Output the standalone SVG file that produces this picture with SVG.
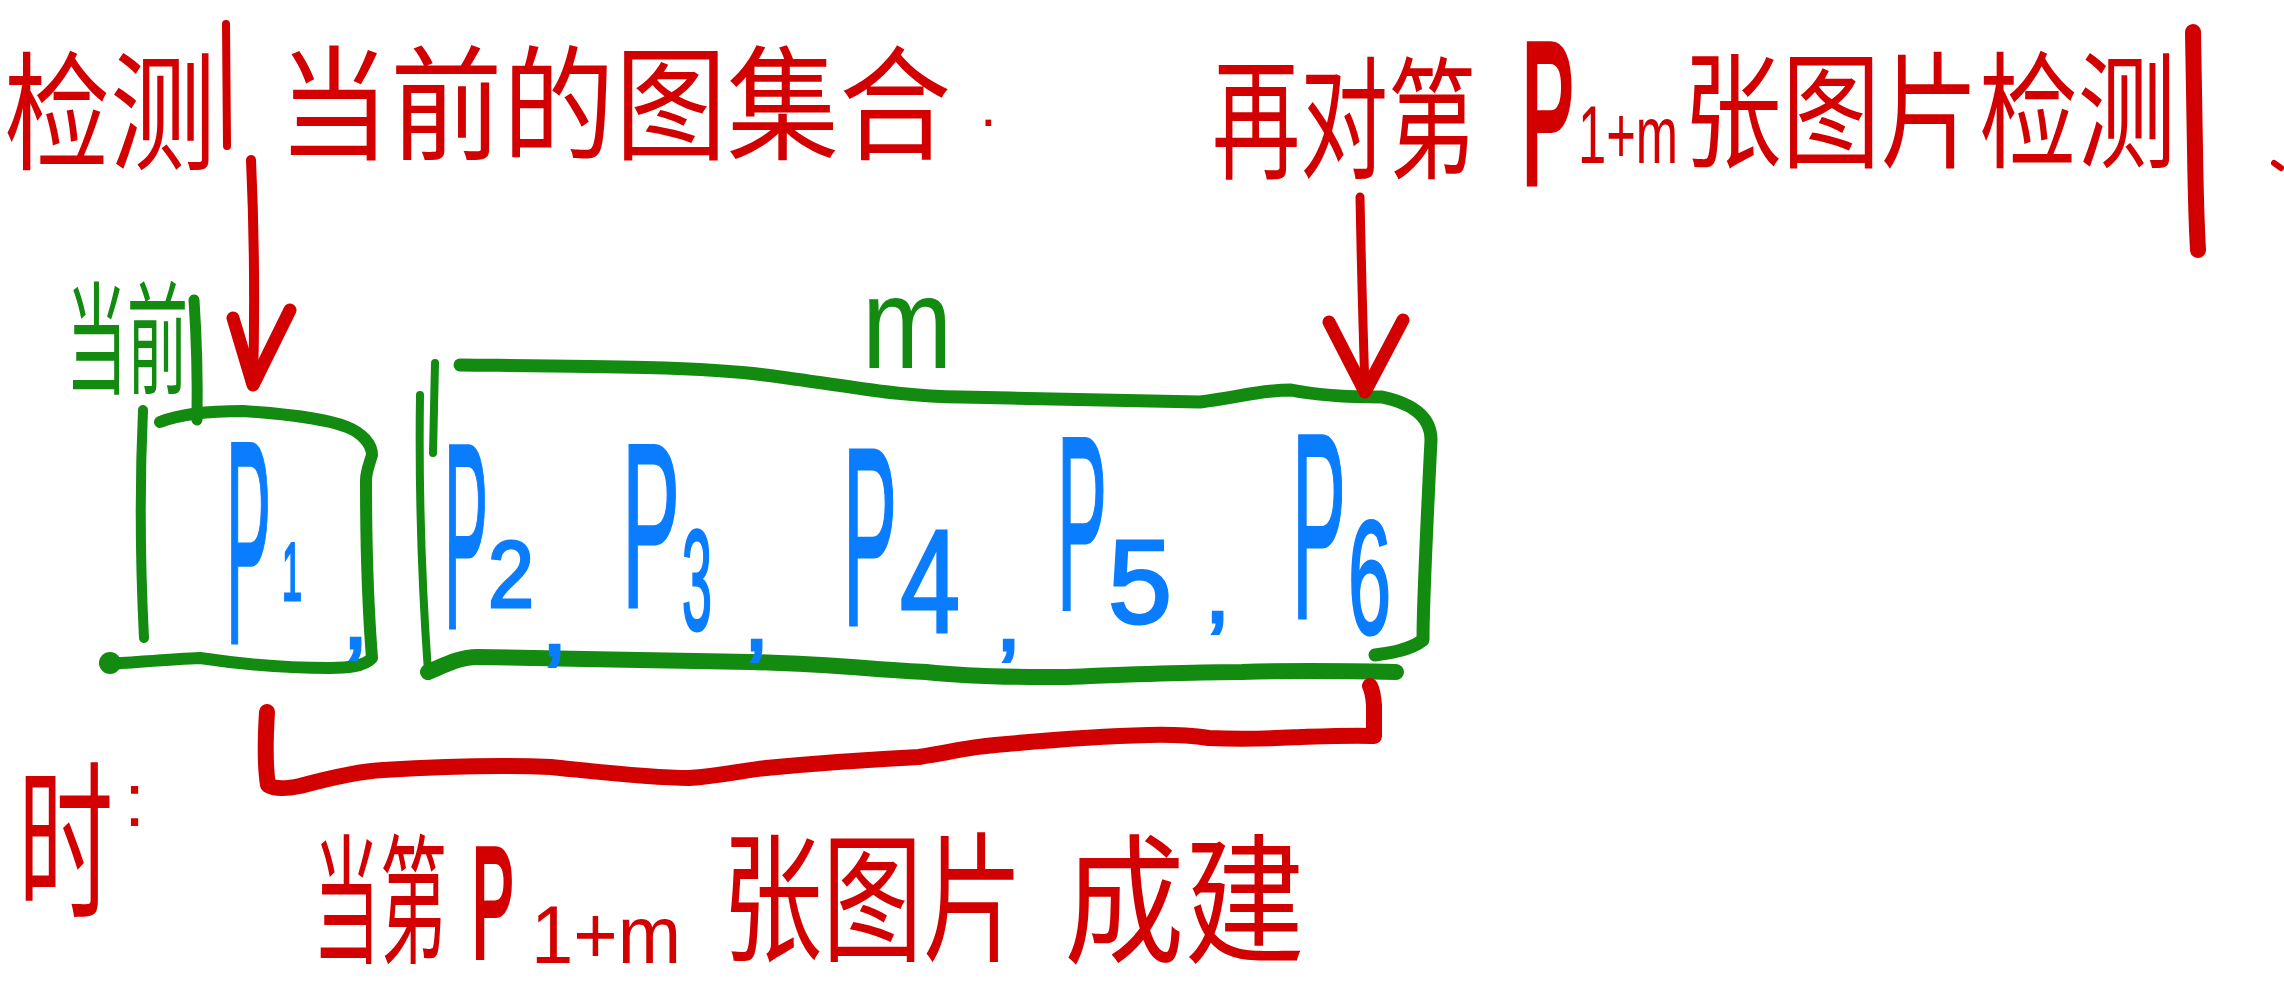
<svg xmlns="http://www.w3.org/2000/svg" width="2284" height="1000" viewBox="0 0 2284 1000">
<style>
.r{fill:#d20000}
.g{fill:#138a10}
.b{fill:#0a7dff;stroke:#0a7dff;stroke-width:3}
.cjk{font-family:"Noto Sans CJK SC","Noto Sans",sans-serif}
.lat{font-family:"Liberation Sans",Arial,sans-serif}
.sr{fill:none;stroke:#d20000;stroke-linecap:round;stroke-linejoin:round}
.sg{fill:none;stroke:#138a10;stroke-linecap:round;stroke-linejoin:round}
</style>
<rect width="2284" height="1000" fill="#ffffff"/>

<g id="label-top-left">
<text class="cjk r" transform="translate(4,160) scale(0.828,1)" font-size="128">检测</text>
<path class="sr" d="M226,24 L227,146" stroke-width="8"/>
<text class="cjk r" transform="translate(278,150) scale(0.905,1)" font-size="124">当前的图集合</text>
<text class="lat r" x="980" y="126" font-size="60">.</text>
</g>

<g id="label-top-right">
<text class="cjk r" transform="translate(1212,168) scale(0.667,1)" font-size="132">再对第</text>
<text class="lat r" transform="translate(1522,182) scale(0.394,1)" font-size="198" stroke="#d20000" stroke-width="8">P</text>
<text class="lat r" transform="translate(1578,163) scale(0.618,1)" font-size="82">1+m</text>
<text class="cjk r" transform="translate(1683,158) scale(0.783,1)" font-size="126">张图片检测</text>
<path class="sr" d="M2193,32 L2195,150 Q2196,215 2198,250" stroke-width="16"/>
<path class="sr" d="M2274,163 L2281,168" stroke-width="6"/>
</g>

<g id="label-current">
<text class="cjk g" transform="translate(66,384) scale(0.5,1)" font-size="122">当前</text>
<path class="sg" d="M194,300 Q198,360 197,420" stroke-width="11"/>
</g>

<g id="label-m">
<text class="lat g" transform="translate(862,368) scale(0.833,1)" font-size="130">m</text>
</g>

<g id="node-p1">
<path class="sg" d="M143,410 Q138,520 144,638" stroke-width="10"/>
<path class="sg" d="M160,422 C185,412 220,411 243,411 C290,414 330,420 347,427 C362,433 372,444 372,455 C369,465 366,472 366,480 C366,560 369,620 372,658 C364,667 345,668 330,668 C290,668 240,664 200,658 C170,659 130,663 108,664" stroke-width="12"/>
<circle cx="110" cy="663" r="11" fill="#138a10"/>
<text class="lat b" transform="translate(226,643) scale(0.233,1)" font-size="290" stroke-width="10">P</text>
<text class="lat b" transform="translate(282,600) scale(0.439,1)" font-size="82">1</text>
<text class="lat b" x="343" y="648" font-size="90">,</text>
</g>

<g id="node-p2-p6">
<path class="sg" d="M435,363 L433,453" stroke-width="8"/>
<path class="sg" d="M420,395 Q418,530 428,672" stroke-width="8"/>
<path class="sg" d="M460,365 C560,366 700,366 765,375 C850,386 900,397 961,397 C1050,399 1150,401 1200,402 C1240,397 1260,390 1291,390 C1320,396 1350,397 1382,397 C1405,402 1431,412 1431,440 C1427,520 1423,600 1423,640 C1410,650 1390,653 1375,655" stroke-width="13"/>
<path class="sg" d="M428,672 C445,665 460,657 477,657 C560,659 680,660 751,662 C830,664 880,670 926,672 C980,678 1030,677 1066,677 C1140,674 1200,672 1242,672 C1300,670 1350,671 1396,672" stroke-width="16"/>
<text class="lat b" transform="translate(444,628) scale(0.249,1)" font-size="265" stroke-width="9">P</text>
<text class="lat b" transform="translate(488,607) scale(0.87,1)" font-size="95">2</text>
<text class="lat b" x="542" y="655" font-size="90">,</text>
<text class="lat b" transform="translate(622,607) scale(0.373,1)" font-size="233" stroke-width="7">P</text>
<text class="lat b" transform="translate(682,630) scale(0.38,1)" font-size="142" stroke-width="5">3</text>
<text class="lat b" x="744" y="650" font-size="90">,</text>
<text class="lat b" transform="translate(843,625) scale(0.319,1)" font-size="254" stroke-width="8">P</text>
<text class="lat b" transform="translate(900,632) scale(0.739,1)" font-size="146">4</text>
<text class="lat b" x="996" y="650" font-size="90">,</text>
<text class="lat b" transform="translate(1057,610) scale(0.301,1)" font-size="249" stroke-width="8">P</text>
<text class="lat b" transform="translate(1108,623) scale(0.967,1)" font-size="119">5</text>
<text class="lat b" x="1205" y="622" font-size="90">,</text>
<text class="lat b" transform="translate(1292,618) scale(0.305,1)" font-size="265" stroke-width="8">P</text>
<text class="lat b" transform="translate(1348,633) scale(0.478,1)" font-size="162" stroke-width="5">6</text>
</g>

<g id="label-when">
<text class="cjk r" transform="translate(18,905) scale(0.559,1)" font-size="170">时</text>
<text class="lat r" x="124" y="826" font-size="76">:</text>
</g>

<g id="label-bottom">
<text class="cjk r" transform="translate(313,952) scale(0.479,1)" font-size="140">当第</text>
<text class="lat r" transform="translate(472,957) scale(0.404,1)" font-size="156" stroke="#d20000" stroke-width="6">P</text>
<text class="lat r" transform="translate(531,963) scale(0.927,1)" font-size="82">1+m</text>
<text class="cjk r" transform="translate(722,950) scale(0.717,1)" font-size="140">张图片</text>
<text class="cjk r" transform="translate(1064,952) scale(0.861,1)" font-size="140">成建</text>
</g>

<g id="connectors">
<path class="sr" d="M251,160 Q256,270 253,385" stroke-width="10"/>
<path class="sr" d="M233,318 L253,385 L290,310" stroke-width="13"/>
<path class="sr" d="M1360,197 Q1362,300 1365,388" stroke-width="9"/>
<path class="sr" d="M1329,322 L1365,392 L1403,320" stroke-width="13"/>
<path class="sr" d="M267,712 Q264,760 268,785 C276,790 290,788 300,786 C330,778 360,771 383,770 C450,766 500,765 551,767 C600,772 650,778 689,778 C720,776 745,770 766,768 C830,762 880,759 919,757 C950,752 970,747 995,745 C1060,739 1110,736 1148,735 C1180,734 1195,736 1209,738 C1250,740 1280,738 1301,737 C1330,736 1355,735 1374,736 L1374,705 Q1373,692 1370,686" stroke-width="16"/>
</g>
</svg>
